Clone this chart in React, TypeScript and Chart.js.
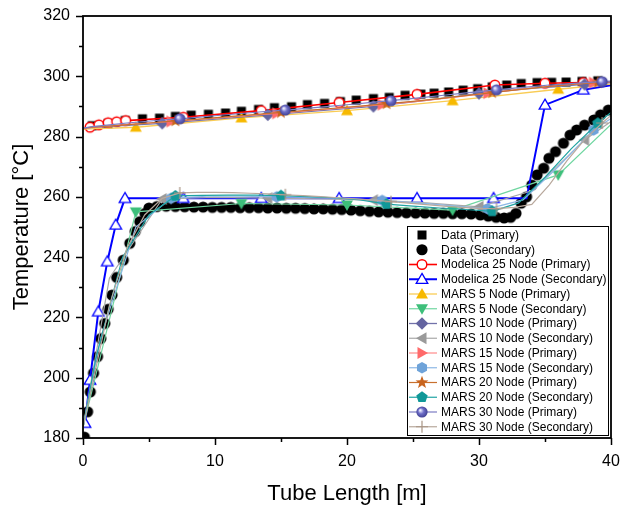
import React, { useEffect, useRef } from "react";
import { Chart, registerables } from "chart.js";

Chart.register(...registerables);

const FONT = "'Liberation Sans', Arial, Helvetica, sans-serif";

// ---- axis ticks ----
const xTicks = [0, 10, 20, 30, 40];
const xMinorTicks = [5, 15, 25, 35];
const yTicks = [180, 200, 220, 240, 260, 280, 300, 320];
const yMinorTicks = [190, 210, 230, 250, 270, 290, 310];

// ---- Data (Primary) ----
const dataPriX = [0.7, 1.9, 3.2, 4.5, 5.8, 7.0, 8.2, 9.5, 10.8, 12.0, 13.3, 14.5, 15.8, 17.0, 18.3, 19.5, 20.7, 22.0, 23.2, 24.4, 25.6, 26.6, 27.7, 28.8, 29.9, 31.0, 32.1, 33.2, 34.4, 35.5, 36.6, 37.8, 39.0];
const dataPriY = [283.6, 284.3, 285.3, 285.9, 286.1, 286.7, 287.1, 287.4, 287.8, 288.4, 289.0, 289.6, 289.9, 290.6, 291.0, 291.6, 292.1, 292.6, 293.0, 293.7, 294.1, 294.4, 294.8, 295.4, 295.9, 296.5, 297.1, 297.6, 297.9, 298.0, 298.1, 298.3, 298.5];

// ---- Data (Secondary) ----
const dataSecX = [
  0.1, 0.35, 0.55, 0.8, 1.1, 1.35, 1.65, 1.9, 2.2, 2.55,
  3.05, 3.55, 3.95, 4.3, 4.7, 5.0, 5.6, 6.3, 7.0, 7.7,
  8.4, 9.1, 9.8, 10.5, 11.2, 11.9, 12.6, 13.3, 14.0, 14.7,
  15.4, 16.1, 16.8, 17.5, 18.2, 18.9, 19.6, 20.3, 21.0, 21.7,
  22.4, 23.1, 23.8, 24.5, 25.2, 25.9, 26.6, 27.3, 28.0, 28.7,
  29.4, 30.1, 30.7, 31.3, 31.9, 32.4, 32.8, 33.2, 33.6, 34.0,
  34.4, 34.9, 35.3, 35.8, 36.4, 36.9, 37.4, 38.0, 38.7, 39.2,
  39.8,
];
const dataSecY = [
  180.3, 188.7, 195.3, 201.5, 207.0, 213.0, 218.0, 222.7, 227.4, 233.3,
  239.0, 244.6, 248.5, 251.8, 254.5, 256.3, 256.8, 256.9, 256.8, 256.7,
  256.6, 256.6, 256.5, 256.5, 256.5, 256.4, 256.4, 256.4, 256.3, 256.3,
  256.2, 256.2, 256.1, 256.0, 256.0, 255.9, 255.8, 255.6, 255.4, 255.2,
  255.0, 254.9, 254.8, 254.7, 254.6, 254.6, 254.5, 254.5, 254.4, 254.4,
  254.3, 254.0, 253.6, 253.2, 253.0, 253.2, 254.5, 257.9, 260.0, 263.9,
  267.3, 269.5, 272.8, 275.0, 277.8, 280.5, 282.2, 283.8, 285.5, 287.2,
  288.8,
];

// ---- Modelica 25 Node ----
const modPriX = [0, 0.53, 1.2, 1.9, 2.55, 3.23, 7.6, 13.5, 19.4, 25.3, 31.2, 35.0, 37.9, 40];
const modPriY = [282.5, 283.1, 283.9, 284.6, 284.9, 285.3, 286.4, 288.6, 291.3, 294.0, 297.1, 297.7, 297.9, 298.2];
const modSecX = [0, 0.15, 0.53, 1.16, 1.84, 2.48, 3.18, 7.6, 13.5, 19.4, 25.3, 31.1, 33.6, 35.0, 37.9, 40];
const modSecY = [183.5, 184.9, 199.2, 221.9, 238.5, 250.7, 259.5, 259.5, 259.5, 259.5, 259.5, 259.5, 259.5, 290.5, 295.5, 297.0];

// ---- MARS 5 Node ----
const mars5X = [0, 4, 12, 20, 28, 36, 40];
const mars5PriY = [282.5, 283.1, 286.2, 288.6, 291.9, 295.7, 297.4];
const mars5SecY = [183.5, 255.0, 257.8, 257.3, 255.6, 267.3, 284.0];

// ---- MARS 10 Node ----
const mars10X = [0, 2, 6, 10, 14, 18, 22, 26, 30, 34, 38, 40];
const mars10PriY = [282.8, 283.4, 284.4, 285.8, 287.2, 288.6, 290.0, 292.0, 294.3, 296.0, 297.3, 297.9];
const mars10SecY = [183.5, 233.0, 259.3, 259.8, 259.6, 259.3, 258.9, 258.0, 256.7, 262.0, 278.9, 285.0];

// ---- MARS 15 Node ----
const mars15X = [0, 1.33, 4, 6.67, 9.33, 12, 14.67, 17.33, 20, 22.67, 25.33, 28, 30.67, 33.33, 36, 38.67, 40];
const mars15PriY = [282.8, 283.3, 284.2, 285.0, 285.9, 286.8, 287.7, 288.7, 289.6, 290.6, 291.7, 293.0, 294.4, 295.8, 297.0, 297.9, 298.3];
const mars15SecY = [183.5, 213.0, 250.0, 259.5, 260.2, 260.2, 260.0, 259.8, 259.4, 258.8, 258.0, 257.0, 256.0, 259.0, 270.0, 282.2, 286.0];

// ---- MARS 20 Node ----
const mars20X = [0, 1, 3, 5, 7, 9, 11, 13, 15, 17, 19, 21, 23, 25, 27, 29, 31, 33, 35, 37, 39, 40];
const mars20PriY = [282.8, 283.2, 283.8, 284.5, 285.2, 285.9, 286.6, 287.3, 288.0, 288.7, 289.4, 290.1, 290.9, 291.7, 292.6, 293.6, 294.6, 295.6, 296.5, 297.3, 297.9, 298.2];
const mars20SecY = [183.5, 207.0, 240.0, 254.0, 260.3, 260.5, 260.6, 260.6, 260.4, 260.1, 259.7, 259.0, 257.6, 256.9, 256.3, 255.8, 255.2, 258.0, 266.5, 276.0, 284.4, 288.0];

// ---- MARS 30 Node ----
const mars30X = [0, 0.67, 2, 3.33, 4.67, 6, 7.33, 8.67, 10, 11.33, 12.67, 14, 15.33, 16.67, 18, 19.33, 20.67, 22, 23.33, 24.67, 26, 27.33, 28.67, 30, 31.33, 32.67, 34, 35.33, 36.67, 38, 39.33, 40];
const mars30PriY = [282.8, 283.3, 283.9, 284.5, 285.0, 285.5, 285.9, 286.4, 286.9, 287.4, 287.9, 288.4, 288.8, 289.3, 289.8, 290.3, 290.8, 291.4, 291.9, 292.5, 293.1, 293.7, 294.3, 294.9, 295.5, 296.1, 296.6, 297.1, 297.5, 297.9, 298.2, 298.4];
const mars30SecY = [183.5, 197.0, 224.0, 243.0, 254.0, 259.5, 261.3, 261.5, 261.5, 261.4, 261.2, 261.0, 260.7, 260.4, 260.1, 259.7, 259.3, 258.9, 258.4, 257.9, 257.4, 256.9, 256.5, 256.2, 256.1, 256.5, 257.5, 264.0, 272.0, 279.0, 284.5, 287.0];

const seriesLabels = [
  "Data (Primary)",
  "Data (Secondary)",
  "Modelica 25 Node (Primary)",
  "Modelica 25 Node (Secondary)",
  "MARS 5 Node (Primary)",
  "MARS 5 Node (Secondary)",
  "MARS 10 Node (Primary)",
  "MARS 10 Node (Secondary)",
  "MARS 15 Node (Primary)",
  "MARS 15 Node (Secondary)",
  "MARS 20 Node (Primary)",
  "MARS 20 Node (Secondary)",
  "MARS 30 Node (Primary)",
  "MARS 30 Node (Secondary)",
];

type Kind =
  | "square" | "circle" | "ocircle" | "otri" | "tri" | "tridown" | "diamond"
  | "trileft" | "triright" | "hex" | "star" | "pent" | "sphere" | "plus";

function poly(ctx: CanvasRenderingContext2D, pts: number[][]) {
  ctx.beginPath();
  ctx.moveTo(pts[0][0], pts[0][1]);
  for (let i = 1; i < pts.length; i++) ctx.lineTo(pts[i][0], pts[i][1]);
  ctx.closePath();
}

function regular(cx: number, cy: number, r: number, n: number, start: number) {
  const pts: number[][] = [];
  for (let i = 0; i < n; i++) {
    const a = start + (i * 2 * Math.PI) / n;
    pts.push([cx + r * Math.cos(a), cy + r * Math.sin(a)]);
  }
  return pts;
}

function drawMarker(ctx: CanvasRenderingContext2D, kind: Kind, x: number, y: number, fill: string, stroke: string) {
  ctx.save();
  ctx.lineJoin = "miter";
  ctx.fillStyle = fill;
  ctx.strokeStyle = stroke;
  ctx.lineWidth = 1;
  switch (kind) {
    case "square":
      ctx.fillRect(x - 4.5, y - 4.5, 9, 9);
      break;
    case "circle":
      ctx.beginPath();
      ctx.arc(x, y, 5.6, 0, Math.PI * 2);
      ctx.fill();
      break;
    case "ocircle":
      ctx.beginPath();
      ctx.arc(x, y, 4.8, 0, Math.PI * 2);
      ctx.fillStyle = "#fff";
      ctx.fill();
      ctx.lineWidth = 1.4;
      ctx.stroke();
      break;
    case "otri":
      poly(ctx, [[x, y - 5.8], [x + 5.8, y + 4.2], [x - 5.8, y + 4.2]]);
      ctx.fillStyle = "#fff";
      ctx.fill();
      ctx.lineWidth = 1.3;
      ctx.stroke();
      break;
    case "tri":
      poly(ctx, [[x, y - 6], [x + 6, y + 4.5], [x - 6, y + 4.5]]);
      ctx.fill();
      break;
    case "tridown":
      poly(ctx, [[x, y + 6], [x + 6, y - 4.5], [x - 6, y - 4.5]]);
      ctx.fill();
      break;
    case "trileft":
      poly(ctx, [[x - 6, y], [x + 4.5, y - 6], [x + 4.5, y + 6]]);
      ctx.fill();
      break;
    case "triright":
      poly(ctx, [[x + 6, y], [x - 4.5, y - 6], [x - 4.5, y + 6]]);
      ctx.fill();
      break;
    case "diamond":
      poly(ctx, [[x, y - 6.3], [x + 6.3, y], [x, y + 6.3], [x - 6.3, y]]);
      ctx.fill();
      break;
    case "hex":
      poly(ctx, regular(x, y, 5.8, 6, Math.PI / 6));
      ctx.fill();
      break;
    case "pent":
      poly(ctx, regular(x, y, 6, 5, -Math.PI / 2));
      ctx.fill();
      break;
    case "star": {
      const pts: number[][] = [];
      for (let i = 0; i < 10; i++) {
        const r = i % 2 === 0 ? 6.8 : 2.8;
        const a = -Math.PI / 2 + (i * Math.PI) / 5;
        pts.push([x + r * Math.cos(a), y + r * Math.sin(a)]);
      }
      poly(ctx, pts);
      ctx.fill();
      break;
    }
    case "sphere": {
      const g = ctx.createRadialGradient(x - 1.8, y - 1.8, 0.5, x, y, 5.8);
      g.addColorStop(0, "#EEEEFF");
      g.addColorStop(0.45, fill);
      g.addColorStop(1, stroke);
      ctx.fillStyle = g;
      ctx.beginPath();
      ctx.arc(x, y, 5.6, 0, Math.PI * 2);
      ctx.fill();
      break;
    }
    case "plus":
      ctx.lineWidth = 1.2;
      ctx.beginPath();
      ctx.moveTo(x - 6, y);
      ctx.lineTo(x + 6, y);
      ctx.moveTo(x, y - 6);
      ctx.lineTo(x, y + 6);
      ctx.stroke();
      break;
  }
  ctx.restore();
}

function markerCanvas(kind: Kind, fill: string, stroke: string): HTMLCanvasElement {
  const c = document.createElement("canvas");
  c.width = 16;
  c.height = 16;
  const ctx = c.getContext("2d")!;
  drawMarker(ctx, kind, 8, 8, fill, stroke);
  return c;
}

interface SeriesDef {
  label: string;
  xs: number[];
  ys: number[];
  kind: Kind;
  fill: string;
  stroke: string;
  line: string | null;
  lineWidth: number;
  hidden: (i: number, n: number) => boolean;
}

const none = () => false;
const hideIdx = (idx: number[]) => (i: number) => idx.includes(i);
const marsHidden = (every: number) => (i: number, n: number) =>
  i === 0 || i === n - 1 || (i - 1) % every !== every - 1;

const series: SeriesDef[] = [
  { label: seriesLabels[0], xs: dataPriX, ys: dataPriY, kind: "square", fill: "#000", stroke: "#000", line: null, lineWidth: 0, hidden: none },
  { label: seriesLabels[1], xs: dataSecX, ys: dataSecY, kind: "circle", fill: "#000", stroke: "#000", line: null, lineWidth: 0, hidden: none },
  { label: seriesLabels[2], xs: modPriX, ys: modPriY, kind: "ocircle", fill: "#fff", stroke: "#FF0000", line: "#FF0000", lineWidth: 1.6, hidden: hideIdx([0, 13]) },
  { label: seriesLabels[3], xs: modSecX, ys: modSecY, kind: "otri", fill: "#fff", stroke: "#0000FF", line: "#0000FF", lineWidth: 2, hidden: hideIdx([0, 12, 15]) },
  { label: seriesLabels[4], xs: mars5X, ys: mars5PriY, kind: "tri", fill: "#F7B900", stroke: "#F7B900", line: "#F9CC55", lineWidth: 1.3, hidden: marsHidden(1) },
  { label: seriesLabels[5], xs: mars5X, ys: mars5SecY, kind: "tridown", fill: "#3DBF7A", stroke: "#3DBF7A", line: "#6FD6A0", lineWidth: 1.2, hidden: marsHidden(1) },
  { label: seriesLabels[6], xs: mars10X, ys: mars10PriY, kind: "diamond", fill: "#6464A0", stroke: "#6464A0", line: "#7272AA", lineWidth: 1.3, hidden: marsHidden(2) },
  { label: seriesLabels[7], xs: mars10X, ys: mars10SecY, kind: "trileft", fill: "#9A9A9A", stroke: "#9A9A9A", line: "#A8A8A8", lineWidth: 1.2, hidden: marsHidden(2) },
  { label: seriesLabels[8], xs: mars15X, ys: mars15PriY, kind: "triright", fill: "#FF6A6A", stroke: "#FF6A6A", line: "#FF8A8A", lineWidth: 1.2, hidden: marsHidden(3) },
  { label: seriesLabels[9], xs: mars15X, ys: mars15SecY, kind: "hex", fill: "#6FA3D9", stroke: "#6FA3D9", line: "#8DB8E6", lineWidth: 1.2, hidden: marsHidden(3) },
  { label: seriesLabels[10], xs: mars20X, ys: mars20PriY, kind: "star", fill: "#C8641E", stroke: "#C8641E", line: "#C8702E", lineWidth: 1.2, hidden: marsHidden(4) },
  { label: seriesLabels[11], xs: mars20X, ys: mars20SecY, kind: "pent", fill: "#109898", stroke: "#109898", line: "#1FA3A3", lineWidth: 1.2, hidden: marsHidden(4) },
  { label: seriesLabels[12], xs: mars30X, ys: mars30PriY, kind: "sphere", fill: "#6E6EC8", stroke: "#3E3E90", line: "#7C7CC4", lineWidth: 1.2, hidden: marsHidden(6) },
  { label: seriesLabels[13], xs: mars30X, ys: mars30SecY, kind: "plus", fill: "#A89484", stroke: "#A89484", line: "#B8A89C", lineWidth: 1.2, hidden: marsHidden(6) },
];

const decorPlugin = {
  id: "decor",
  afterDraw(chart: any) {
    const { ctx, chartArea: a, scales } = chart;
    const xs = scales.x;
    const ys = scales.y;
    ctx.save();
    // ticks
    ctx.strokeStyle = "#000";
    ctx.lineWidth = 1.5;
    ctx.beginPath();
    for (const v of yTicks) {
      const p = Math.round(ys.getPixelForValue(v)) + 0.5;
      ctx.moveTo(a.left - 7, p);
      ctx.lineTo(a.left, p);
    }
    for (const v of yMinorTicks) {
      const p = Math.round(ys.getPixelForValue(v)) + 0.5;
      ctx.moveTo(a.left - 4, p);
      ctx.lineTo(a.left, p);
    }
    for (const v of xTicks) {
      const p = Math.round(xs.getPixelForValue(v)) + 0.5;
      ctx.moveTo(p, a.bottom);
      ctx.lineTo(p, a.bottom + 7);
    }
    for (const v of xMinorTicks) {
      const p = Math.round(xs.getPixelForValue(v)) + 0.5;
      ctx.moveTo(p, a.bottom);
      ctx.lineTo(p, a.bottom + 4);
    }
    ctx.stroke();
    // frame
    ctx.lineWidth = 1.8;
    ctx.strokeRect(a.left, a.top, a.right - a.left, a.bottom - a.top);

    // axis titles
    ctx.fillStyle = "#000";
    ctx.font = `22px ${FONT}`;
    ctx.textAlign = "center";
    ctx.textBaseline = "alphabetic";
    ctx.fillText("Tube Length [m]", (a.left + a.right) / 2, 500);
    ctx.save();
    ctx.translate(28, (a.top + a.bottom) / 2);
    ctx.rotate(-Math.PI / 2);
    ctx.fillText("Temperature [°C]", 0, 0);
    ctx.restore();

    // legend
    const lx = 407, ly = 226, lw = 201, lh = 209;
    ctx.fillStyle = "#fff";
    ctx.fillRect(lx, ly, lw, lh);
    ctx.lineWidth = 1;
    ctx.strokeStyle = "#000";
    ctx.strokeRect(lx + 0.5, ly + 0.5, lw, lh);
    ctx.font = `12px ${FONT}`;
    ctx.textAlign = "left";
    ctx.textBaseline = "middle";
    series.forEach((s, r) => {
      const y = 235 + r * 14.75;
      if (s.line) {
        ctx.strokeStyle = s.line;
        ctx.lineWidth = s.lineWidth;
        ctx.beginPath();
        ctx.moveTo(409, y);
        ctx.lineTo(437, y);
        ctx.stroke();
      }
      drawMarker(ctx, s.kind, 422, y, s.fill, s.stroke);
      ctx.fillStyle = "#000";
      ctx.fillText(s.label, 441, y + 0.5);
    });
    ctx.restore();
  },
};

const zeroPad = (sc: any) => {
  sc.paddingTop = 0;
  sc.paddingBottom = 0;
  sc.paddingLeft = 0;
  sc.paddingRight = 0;
};

export default function App() {
  const ref = useRef<HTMLCanvasElement>(null);
  useEffect(() => {
    const canvas = ref.current!;
    const datasets = series.map((s, idx) => {
      const img = markerCanvas(s.kind, s.fill, s.stroke);
      const n = s.xs.length;
      return {
        label: s.label,
        data: s.xs.map((x, i) => ({ x, y: s.ys[i] })),
        showLine: !!s.line,
        borderColor: s.line || "transparent",
        borderWidth: s.lineWidth,
        backgroundColor: s.fill,
        pointStyle: img,
        pointRadius: (c: any) => (s.hidden(c.dataIndex, n) ? 0 : 6),
        pointHoverRadius: 6,
        tension: 0,
        order: 100 - idx,
      };
    });
    const chart = new Chart(canvas, {
      type: "scatter",
      data: { datasets: datasets as any },
      plugins: [decorPlugin],
      options: {
        responsive: false,
        maintainAspectRatio: false,
        animation: false,
        devicePixelRatio: 1,
        events: [],
        layout: { padding: { left: 0, right: 20, top: 16, bottom: 0 } },
        plugins: { legend: { display: false }, tooltip: { enabled: false } },
        scales: {
          x: {
            type: "linear",
            min: 0,
            max: 40,
            afterBuildTicks: (sc: any) => {
              sc.ticks = xTicks.map((v) => ({ value: v }));
            },
            afterFit: (sc: any) => {
              sc.height = 71;
              zeroPad(sc);
            },
            grid: { display: false, drawTicks: false },
            border: { display: false },
            ticks: { color: "#000", font: { family: FONT, size: 16 }, padding: 14, maxRotation: 0 },
          },
          y: {
            type: "linear",
            min: 180,
            max: 320,
            afterBuildTicks: (sc: any) => {
              sc.ticks = yTicks.map((v) => ({ value: v }));
            },
            afterFit: (sc: any) => {
              sc.width = 83;
              zeroPad(sc);
            },
            grid: { display: false, drawTicks: false },
            border: { display: false },
            ticks: { color: "#000", font: { family: FONT, size: 16 }, padding: 13 },
          },
        },
      },
    });
    return () => chart.destroy();
  }, []);
  return (
    <div style={{ position: "fixed", left: 0, top: 0, width: 631, height: 509, background: "#fff" }}>
      <canvas ref={ref} width={631} height={509} style={{ display: "block", width: 631, height: 509 }} />
    </div>
  );
}
